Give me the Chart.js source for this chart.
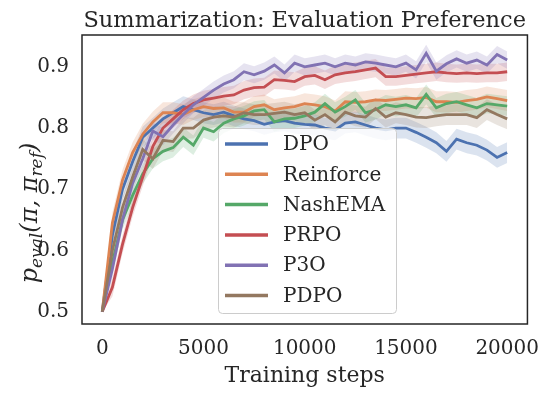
<!DOCTYPE html>
<html>
<head>
<meta charset="utf-8">
<script src="https://cdn.jsdelivr.net/npm/chart.js@4.4.0/dist/chart.umd.min.js"></script>
<style>
  html, body { margin: 0; padding: 0; background: #fff; }
  #wrap { width: 553px; height: 395px; }
</style>
</head>
<body>
<div id="wrap"><canvas id="chart" width="553" height="395"></canvas></div>
<script>
// training steps (x)
const steps = [0, 500, 1000, 1500, 2000, 2500, 3000, 3500, 4000, 4500,
  5000, 5500, 6000, 6500, 7000, 7500, 8000, 8500, 9000, 9500,
  10000, 10500, 11000, 11500, 12000, 12500, 13000, 13500, 14000, 14500,
  15000, 15500, 16000, 16500, 17000, 17500, 18000, 18500, 19000, 19500, 20000];

// mean eval preference per method
const dpo = [0.5, 0.625, 0.70, 0.745, 0.785, 0.80, 0.815, 0.825, 0.835, 0.83,
  0.825, 0.822, 0.826, 0.82, 0.815, 0.812, 0.806, 0.81, 0.812, 0.808,
  0.806, 0.805, 0.80, 0.797, 0.808, 0.81, 0.805, 0.80, 0.797, 0.80,
  0.80, 0.793, 0.785, 0.776, 0.762, 0.782, 0.776, 0.772, 0.764, 0.752, 0.76];
const reinforce = [0.5, 0.645, 0.715, 0.76, 0.79, 0.81, 0.825, 0.825, 0.822, 0.83,
  0.835, 0.832, 0.833, 0.826, 0.826, 0.835, 0.838, 0.83, 0.833, 0.835,
  0.84, 0.838, 0.835, 0.828, 0.843, 0.842, 0.843, 0.846, 0.845, 0.847,
  0.849, 0.848, 0.85, 0.843, 0.843, 0.842, 0.845, 0.847, 0.851, 0.848, 0.845];
const nashEma = [0.5, 0.58, 0.65, 0.69, 0.725, 0.75, 0.762, 0.768, 0.785, 0.772,
  0.80, 0.794, 0.808, 0.815, 0.82, 0.828, 0.83, 0.81, 0.815, 0.816,
  0.82, 0.826, 0.84, 0.826, 0.835, 0.846, 0.825, 0.83, 0.838, 0.835,
  0.838, 0.833, 0.855, 0.833, 0.84, 0.843, 0.838, 0.833, 0.84, 0.838, 0.836];
const prpo = [0.5, 0.54, 0.61, 0.67, 0.72, 0.77, 0.80, 0.815, 0.83, 0.84,
  0.846, 0.849, 0.852, 0.854, 0.862, 0.866, 0.867, 0.879, 0.878, 0.876,
  0.884, 0.886, 0.879, 0.887, 0.89, 0.892, 0.895, 0.898, 0.884, 0.884,
  0.886, 0.888, 0.89, 0.892, 0.89, 0.889, 0.89, 0.889, 0.89, 0.89, 0.892];
const p3o = [0.5, 0.57, 0.65, 0.71, 0.75, 0.795, 0.786, 0.805, 0.822, 0.838,
  0.85, 0.862, 0.872, 0.879, 0.892, 0.887, 0.893, 0.903, 0.89, 0.906,
  0.90, 0.903, 0.906, 0.90, 0.906, 0.903, 0.908, 0.906, 0.903, 0.90,
  0.906, 0.895, 0.922, 0.893, 0.905, 0.913, 0.906, 0.911, 0.903, 0.92, 0.911];
const pdpo = [0.5, 0.60, 0.67, 0.72, 0.765, 0.75, 0.78, 0.778, 0.80, 0.80,
  0.813, 0.818, 0.82, 0.818, 0.825, 0.822, 0.822, 0.824, 0.826, 0.822,
  0.825, 0.813, 0.822, 0.81, 0.826, 0.82, 0.818, 0.832, 0.818, 0.825,
  0.822, 0.818, 0.817, 0.82, 0.822, 0.822, 0.822, 0.817, 0.83, 0.822, 0.815];

// half width of the shaded band around each mean
const bandHalf = [0.017, 0.017, 0.016, 0.015, 0.014, 0.017];

const labels = ['DPO', 'Reinforce', 'NashEMA', 'PRPO', 'P3O', 'PDPO'];
const series = [dpo, reinforce, nashEma, prpo, p3o, pdpo];
const colors = ['#4C72B0', '#DD8452', '#55A868', '#C44E52', '#8172B3', '#937860'];

const xTicks = [0, 5000, 10000, 15000, 20000];
const yTicks = [0.5, 0.6, 0.7, 0.8, 0.9];

const FONT = "'DejaVu Serif', serif";
const TEXT = '#262626';

function rgba(hex, a) {
  const n = parseInt(hex.slice(1), 16);
  return `rgba(${n >> 16}, ${(n >> 8) & 255}, ${n & 255}, ${a})`;
}

const datasets = [];
series.forEach((vals, k) => {
  const h = bandHalf[k];
  datasets.push({
    label: labels[k] + ' low',
    data: vals.map((v, i) => ({ x: steps[i], y: i === 0 ? v : v - h })),
    borderWidth: 0, pointRadius: 0, fill: false, order: 30 - k,
    isBand: true
  });
  datasets.push({
    label: labels[k] + ' high',
    data: vals.map((v, i) => ({ x: steps[i], y: i === 0 ? v : v + h })),
    borderWidth: 0, pointRadius: 0, fill: '-1',
    backgroundColor: rgba(colors[k], 0.2), order: 30 - k,
    isBand: true
  });
});
series.forEach((vals, k) => {
  datasets.push({
    label: labels[k],
    data: vals.map((v, i) => ({ x: steps[i], y: v })),
    borderColor: colors[k],
    borderWidth: 2.8,
    pointRadius: 0,
    fill: false,
    tension: 0,
    order: 20 - k
  });
});

// title centred over the plot, full frame around it
const framePlugin = {
  id: 'frame',
  afterDraw(chart) {
    const { ctx, chartArea: a } = chart;
    ctx.save();
    ctx.strokeStyle = TEXT;
    ctx.lineWidth = 1.5;
    ctx.strokeRect(a.left, a.top, a.right - a.left, a.bottom - a.top);
    ctx.fillStyle = TEXT;
    ctx.font = `22.5px ${FONT}`;
    ctx.textAlign = 'center';
    ctx.textBaseline = 'alphabetic';
    ctx.fillText('Summarization: Evaluation Preference', (a.left + a.right) / 2, 27);
    ctx.restore();
  }
};

// legend box inside the plot
const legendPlugin = {
  id: 'innerLegend',
  afterDraw(chart) {
    const { ctx } = chart;
    ctx.save();
    ctx.beginPath();
    ctx.roundRect(218.5, 128.5, 178, 185, 4);
    ctx.fillStyle = 'rgba(255,255,255,0.8)';
    ctx.fill();
    ctx.strokeStyle = '#cccccc';
    ctx.lineWidth = 1;
    ctx.stroke();
    const lines = chart.data.datasets.filter(d => !d.isBand);
    lines.forEach((d, i) => {
      const y = 144 + i * 30.3;
      ctx.beginPath();
      ctx.moveTo(225, y);
      ctx.lineTo(268, y);
      ctx.strokeStyle = d.borderColor;
      ctx.lineWidth = 3.5;
      ctx.stroke();
      ctx.fillStyle = TEXT;
      ctx.font = `20px ${FONT}`;
      ctx.textBaseline = 'middle';
      ctx.textAlign = 'left';
      ctx.fillText(d.label, 283, y + 1);
    });
    ctx.restore();
  }
};

// rotated y label with subscripts: p_eval(π, π_ref)
const yLabelPlugin = {
  id: 'yLabel',
  afterDraw(chart) {
    const { ctx } = chart;
    const parts = [
      { t: 'p', sub: false }, { t: 'eval', sub: true },
      { t: '(π, π', sub: false }, { t: 'ref', sub: true }, { t: ')', sub: false }
    ];
    const big = `italic 24px ${FONT}`, small = `italic 17px ${FONT}`;
    ctx.save();
    let total = 0;
    parts.forEach(p => { ctx.font = p.sub ? small : big; p.w = ctx.measureText(p.t).width; total += p.w; });
    ctx.translate(30, 213);
    ctx.rotate(-Math.PI / 2);
    ctx.fillStyle = TEXT;
    ctx.textBaseline = 'alphabetic';
    let x = -total / 2;
    parts.forEach(p => {
      ctx.font = p.sub ? small : big;
      ctx.fillText(p.t, x, p.sub ? 12 : 7);
      x += p.w;
    });
    ctx.restore();
  }
};

new Chart(document.getElementById('chart'), {
  type: 'line',
  data: { datasets },
  options: {
    responsive: false,
    animation: false,
    devicePixelRatio: 1,
    layout: { padding: { left: 0, right: 22, top: 35, bottom: 0 } },
    plugins: {
      legend: { display: false },
      tooltip: { enabled: false },
      title: { display: false }
    },
    scales: {
      x: {
        type: 'linear',
        min: -1000, max: 21000,
        grid: { display: false, drawTicks: false },
        border: { display: false },
        afterBuildTicks: s => { s.ticks = xTicks.map(v => ({ value: v })); },
        afterFit: s => { s.height = 71; },
        ticks: {
          color: TEXT, padding: 13, maxRotation: 0,
          font: { family: FONT, size: 20 },
          callback: v => String(v)
        },
        title: {
          display: true, text: 'Training steps', color: TEXT,
          font: { family: FONT, size: 22 },
          padding: { top: 0, bottom: 6 }
        }
      },
      y: {
        min: 0.48, max: 0.952,
        grid: { display: false, drawTicks: false },
        border: { display: false },
        afterBuildTicks: s => { s.ticks = yTicks.map(v => ({ value: v })); },
        afterFit: s => { s.width = 82; },
        ticks: {
          color: TEXT, padding: 13,
          font: { family: FONT, size: 20 },
          callback: v => v.toFixed(1)
        }
      }
    }
  },
  plugins: [framePlugin, legendPlugin, yLabelPlugin]
});
</script>
</body>
</html>
